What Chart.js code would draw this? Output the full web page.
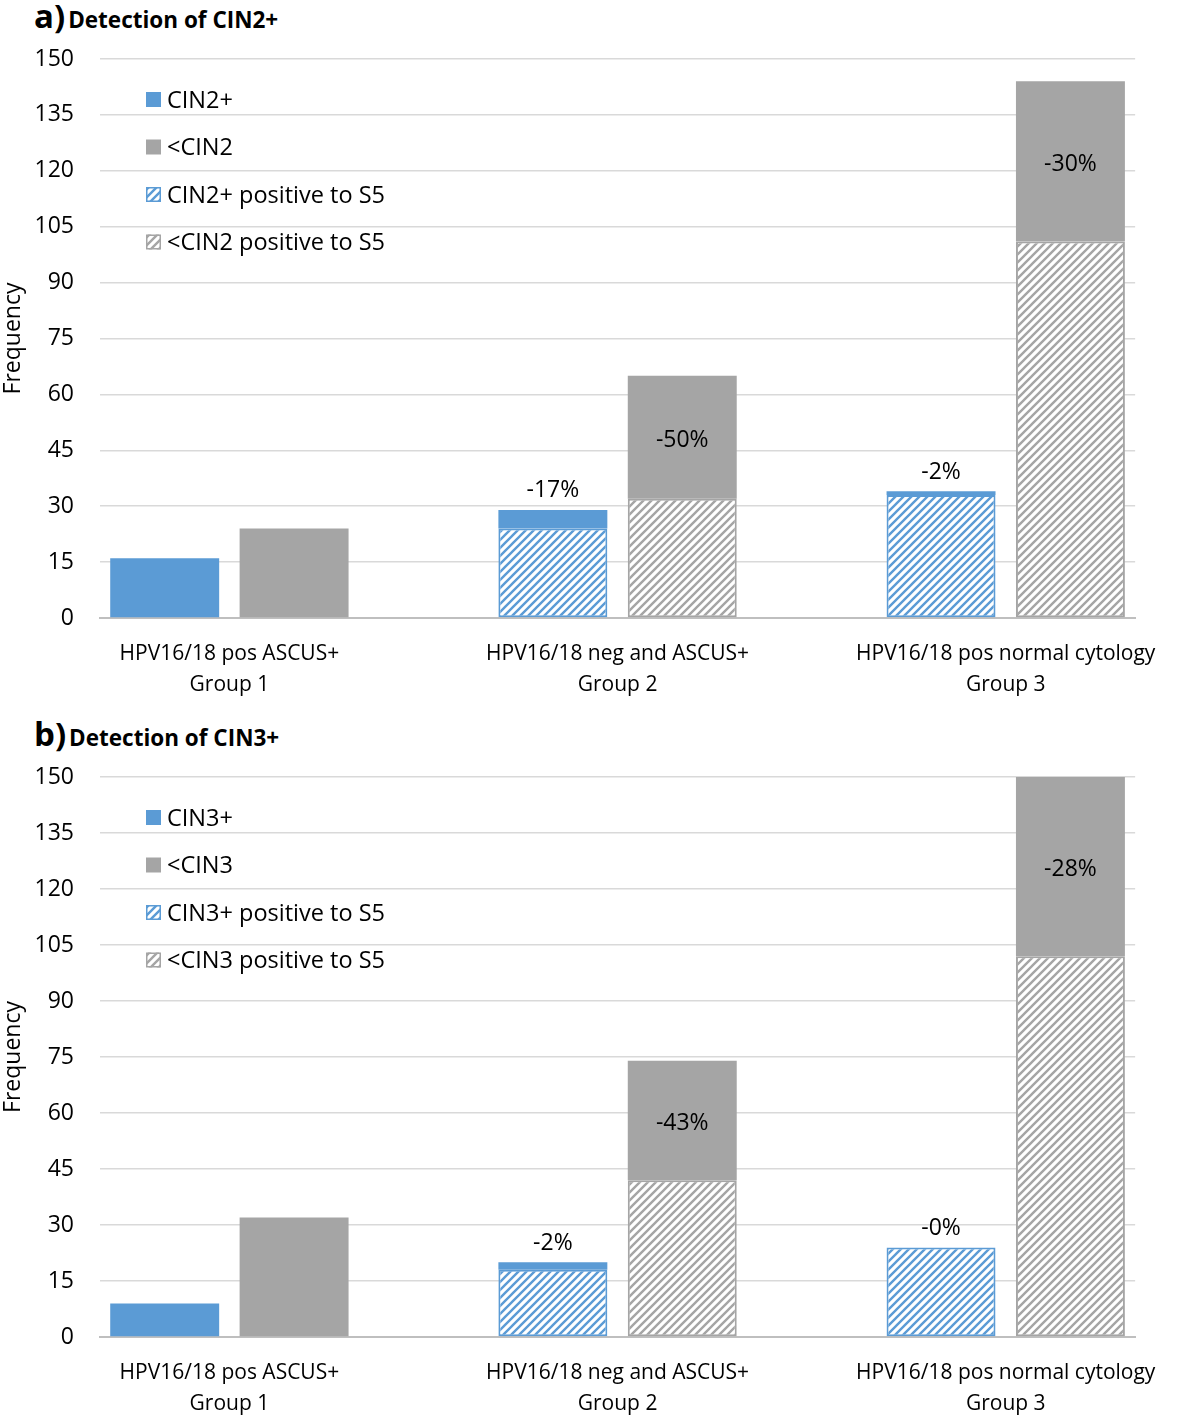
<!DOCTYPE html>
<html>
<head>
<meta charset="utf-8">
<script src="https://cdn.jsdelivr.net/npm/chart.js@4.4.0/dist/chart.umd.min.js"></script>
<style>
  html, body { margin: 0; padding: 0; background: #fff; overflow: hidden; }
  body { width: 1181px; height: 1416px; position: relative; font-family: 'Open Sans', sans-serif; }
  .panel-title { position: absolute; left: 34px; font-weight: bold; line-height: 30px; white-space: nowrap; color: #000; }
  .panel-title .tag { font-size: 33px; margin-right: 3px; }
  .panel-title .txt { font-size: 22.5px; }
  canvas { position: absolute; left: 0; }
</style>
</head>
<body>
<div class="panel-title" style="top:1px"><span class="tag">a)</span><span class="txt">Detection of CIN2+</span></div>
<canvas id="chartA" width="1181" height="670" style="top:40px"></canvas>
<div class="panel-title" style="top:719px"><span class="tag">b)</span><span class="txt">Detection of CIN3+</span></div>
<canvas id="chartB" width="1181" height="658" style="top:758px"></canvas>
<script>
// x positions of the three groups and their labels
const groupPositions = [0, 1, 2];
const groupLabels = [
  ["HPV16/18 pos ASCUS+", "Group 1"],
  ["HPV16/18 neg and ASCUS+", "Group 2"],
  ["HPV16/18 pos normal cytology", "Group 3"],
];

// panel a - CIN2+
const cin2PosTotal = [16, 29, 34];
const cin2PosS5 = [null, 24, 33];
const cin2NegTotal = [24, 65, 144];
const cin2NegS5 = [null, 32, 101];
const cin2PosChange = ["", "-17%", "-2%"];
const cin2NegChange = ["", "-50%", "-30%"];

// panel b - CIN3+
const cin3PosTotal = [9, 20, 24];
const cin3PosS5 = [null, 18, 24];
const cin3NegTotal = [32, 74, 150];
const cin3NegS5 = [null, 42, 102];
const cin3PosChange = ["", "-2%", "-0%"];
const cin3NegChange = ["", "-43%", "-28%"];

const yTicks = { min: 0, max: 150, step: 15 };

const BLUE = "#5b9bd5";
const GRAY = "#a5a5a5";
const X_MIN = -1 / 3;
const X_MAX = 7 / 3;

Chart.defaults.font.family = "'Open Sans', sans-serif";
Chart.defaults.color = "#000";

function makeHatch(color) {
  const c = document.createElement("canvas");
  c.width = 8;
  c.height = 8;
  const g = c.getContext("2d");
  g.fillStyle = "#fff";
  g.fillRect(0, 0, 8, 8);
  g.strokeStyle = color;
  g.lineWidth = 2.4;
  g.beginPath();
  g.moveTo(-2, 2); g.lineTo(2, -2);
  g.moveTo(0, 8); g.lineTo(8, 0);
  g.moveTo(6, 10); g.lineTo(10, 6);
  g.stroke();
  return g.createPattern(c, "repeat");
}

const blueHatch = makeHatch(BLUE);
const grayHatch = makeHatch(GRAY);

function points(values) {
  return values.map((v, i) => ({ x: groupPositions[i], y: v }));
}

function rest(totals, s5) {
  return totals.map((t, i) => t - (s5[i] || 0));
}

// percentage labels: above the blue stack, centered inside the grey top segment
const changeLabels = {
  id: "changeLabels",
  afterDatasetsDraw(chart, args, opts) {
    const ctx = chart.ctx;
    ctx.save();
    ctx.font = "23px 'Open Sans', sans-serif";
    ctx.fillStyle = "#000";
    ctx.textAlign = "center";
    ctx.textBaseline = "middle";
    const posMeta = chart.getDatasetMeta(1);
    const negMeta = chart.getDatasetMeta(3);
    opts.pos.forEach((txt, i) => {
      if (!txt) return;
      const el = posMeta.data[i];
      ctx.fillText(txt, el.x, el.y - 19);
    });
    opts.neg.forEach((txt, i) => {
      if (!txt) return;
      const el = negMeta.data[i];
      ctx.fillText(txt, el.x, (el.y + el.base) / 2 + 3);
    });
    ctx.restore();
  },
};

// legend drawn inside the plot, top left
const boxLegend = {
  id: "boxLegend",
  afterDraw(chart, args, opts) {
    const ctx = chart.ctx;
    const area = chart.chartArea;
    ctx.save();
    ctx.font = "23.5px 'Open Sans', sans-serif";
    ctx.textBaseline = "middle";
    opts.order.forEach((dsIndex, row) => {
      const ds = chart.data.datasets[dsIndex];
      const y = area.top + 41 + row * 47.5;
      ctx.fillStyle = ds.backgroundColor;
      ctx.fillRect(146, y - 8, 15, 15);
      if (ds.borderWidth) {
        ctx.strokeStyle = ds.borderColor;
        ctx.lineWidth = 1.5;
        ctx.strokeRect(146.75, y - 7.25, 13.5, 13.5);
      }
      ctx.fillStyle = "#000";
      ctx.fillText(ds.label, 167, y + 1);
    });
    ctx.restore();
  },
};

function makeChart(canvasId, names, posTotal, posS5, negTotal, negS5, posChange, negChange, axisHeight) {
  const ctx = document.getElementById(canvasId).getContext("2d");
  return new Chart(ctx, {
    type: "bar",
    data: {
      datasets: [
        {
          label: names[0] + " positive to S5",
          stack: "pos",
          data: points(posS5),
          backgroundColor: blueHatch,
          borderColor: BLUE,
          borderWidth: 2,
          borderSkipped: false,
        },
        {
          label: names[0],
          stack: "pos",
          data: points(rest(posTotal, posS5)),
          backgroundColor: BLUE,
          borderWidth: 0,
        },
        {
          label: names[1] + " positive to S5",
          stack: "neg",
          data: points(negS5),
          backgroundColor: grayHatch,
          borderColor: GRAY,
          borderWidth: 2,
          borderSkipped: false,
        },
        {
          label: names[1],
          stack: "neg",
          data: points(rest(negTotal, negS5)),
          backgroundColor: GRAY,
          borderWidth: 0,
        },
      ],
    },
    options: {
      responsive: false,
      animation: false,
      categoryPercentage: 0.6667,
      barPercentage: 0.842,
      layout: { padding: { top: 19, right: 45, left: 0, bottom: 0 } },
      scales: {
        x: {
          type: "linear",
          stacked: true,
          offset: false,
          bounds: "data",
          min: X_MIN,
          max: X_MAX,
          afterBuildTicks: (scale) => {
            scale.ticks = groupPositions.map((v) => ({ value: v }));
            scale.min = X_MIN;
            scale.max = X_MAX;
          },
          afterFit: (scale) => {
            scale.height = axisHeight;
          },
          grid: { display: false, drawTicks: false },
          border: { display: true, color: "#bfbfbf", width: 2 },
          ticks: {
            autoSkip: false,
            maxRotation: 0,
            padding: 20,
            font: { size: 21, lineHeight: 1.5 },
            color: "#000",
            callback: (value, index) => groupLabels[index],
          },
        },
        y: {
          stacked: true,
          min: yTicks.min,
          max: yTicks.max,
          afterFit: (scale) => {
            scale.width = 100;
          },
          grid: {
            color: "#d9d9d9",
            lineWidth: 1.5,
            drawTicks: true,
            tickLength: 26,
            tickColor: "rgba(0,0,0,0)",
          },
          border: { display: false },
          ticks: {
            stepSize: yTicks.step,
            padding: 0,
            font: { size: 23 },
            color: "#000",
          },
          title: {
            display: true,
            text: "Frequency",
            font: { size: 23 },
            color: "#000",
            padding: 0,
          },
        },
      },
      plugins: {
        legend: { display: false },
        tooltip: { enabled: false },
        changeLabels: { pos: posChange, neg: negChange },
        boxLegend: { order: [1, 3, 0, 2] },
      },
    },
    plugins: [changeLabels, boxLegend],
  });
}

makeChart("chartA", ["CIN2+", "<CIN2"], cin2PosTotal, cin2PosS5, cin2NegTotal, cin2NegS5, cin2PosChange, cin2NegChange, 92);
makeChart("chartB", ["CIN3+", "<CIN3"], cin3PosTotal, cin3PosS5, cin3NegTotal, cin3NegS5, cin3PosChange, cin3NegChange, 79);
</script>
</body>
</html>
